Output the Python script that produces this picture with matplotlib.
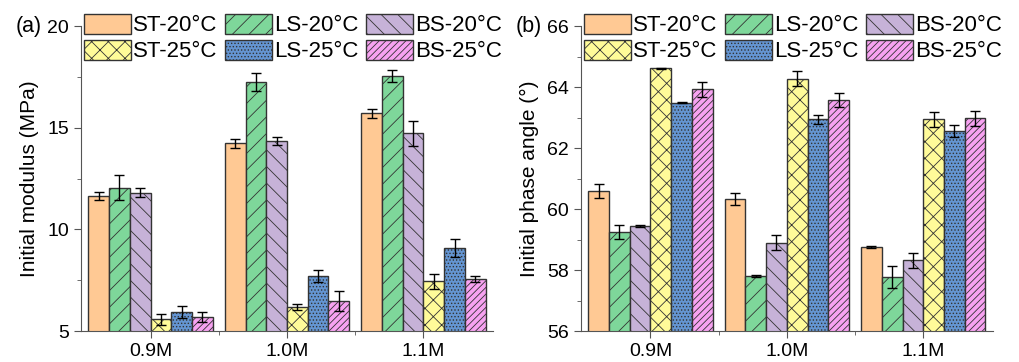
import numpy as np
import matplotlib.pyplot as plt
from matplotlib.ticker import MultipleLocator

plt.rcParams['font.family'] = ['Liberation Sans', 'DejaVu Sans']
plt.rcParams['hatch.linewidth'] = 0.6

# categories and series
groups = ['0.9M', '1.0M', '1.1M']
series = ['ST-20°C', 'LS-20°C', 'BS-20°C', 'ST-25°C', 'LS-25°C', 'BS-25°C']

# initial modulus (MPa) and std, rows = series, columns = groups
modulus = [
    [11.65, 14.23, 15.71],
    [12.05, 17.25, 17.56],
    [11.80, 14.33, 14.72],
    [5.57, 6.16, 7.44],
    [5.95, 7.70, 9.08],
    [5.67, 6.46, 7.56],
]
modulus_err = [
    [0.20, 0.23, 0.23],
    [0.60, 0.43, 0.30],
    [0.23, 0.20, 0.60],
    [0.27, 0.15, 0.37],
    [0.30, 0.30, 0.44],
    [0.25, 0.50, 0.13],
]

# initial phase angle (deg) and std
phase = [
    [60.58, 60.33, 58.76],
    [59.25, 57.81, 57.78],
    [59.45, 58.90, 58.32],
    [64.61, 64.27, 62.94],
    [63.48, 62.94, 62.56],
    [63.93, 63.57, 62.97],
]
phase_err = [
    [0.23, 0.21, 0.03],
    [0.23, 0.03, 0.36],
    [0.03, 0.24, 0.24],
    [0.03, 0.25, 0.25],
    [0.02, 0.14, 0.21],
    [0.25, 0.22, 0.25],
]

colors = ['#FFC994', '#7ED79A', '#C6B2D8', '#FFFB99', '#6495D2', '#F7A2F1']
hatches = [None, '//', '\\\\', 'xx', '.....', '/////']

fig = plt.figure(figsize=(10.19, 3.62), dpi=100)
ax1 = fig.add_axes([0.0795, 0.0856, 0.4043, 0.8425])
ax2 = fig.add_axes([0.570, 0.0856, 0.4043, 0.8425])

x = np.arange(len(groups))
w = 0.152


def draw(ax, vals, errs, ylim, major, minor, ylabel, tag):
    handles = []
    for i in range(len(series)):
        pos = x + (i - 2.5) * w
        b = ax.bar(pos, vals[i], w, bottom=0, color=colors[i], edgecolor='#333333',
                   linewidth=1.0, hatch=hatches[i], label=series[i])
        ax.errorbar(pos, vals[i], yerr=errs[i], fmt='none', ecolor='black',
                    elinewidth=1.0, capsize=3.5, capthick=1.0)
        handles.append(b)
    ax.set_ylim(*ylim)
    ax.set_xlim(-0.51, 2.51)
    ax.set_xticks(x)
    ax.set_xticklabels(groups)
    ax.set_xticks([0.5, 1.5], minor=True)
    ax.yaxis.set_major_locator(MultipleLocator(major))
    ax.yaxis.set_minor_locator(MultipleLocator(minor))
    ax.spines['top'].set_visible(False)
    ax.spines['right'].set_visible(False)
    for s in ['left', 'bottom']:
        ax.spines[s].set_color('#555555')
    ax.tick_params(which='both', direction='out', colors='#555555', labelcolor='black',
                   labelsize=14)
    ax.tick_params(which='major', length=5)
    ax.tick_params(which='minor', length=3)
    ax.set_ylabel(ylabel, fontsize=15, labelpad=6)
    ax.text(-0.158, 1.0, tag, transform=ax.transAxes, fontsize=15.5, va='center', ha='left')
    order = [0, 3, 1, 4, 2, 5]
    ax.legend([handles[k] for k in order], [series[k] for k in order], ncol=3,
              loc='upper left', bbox_to_anchor=(0.008, 1.04), frameon=False,
              fontsize=16, handlelength=2.1, handleheight=1.0, handletextpad=0.1,
              columnspacing=0.35, labelspacing=0.15, borderpad=0, borderaxespad=0)


draw(ax1, modulus, modulus_err, (5, 20), 5, 2.5, 'Initial modulus (MPa)', '(a)')
draw(ax2, phase, phase_err, (56, 66), 2, 1, 'Initial phase angle (°)', '(b)')

fig.savefig('out.png', dpi=100)
